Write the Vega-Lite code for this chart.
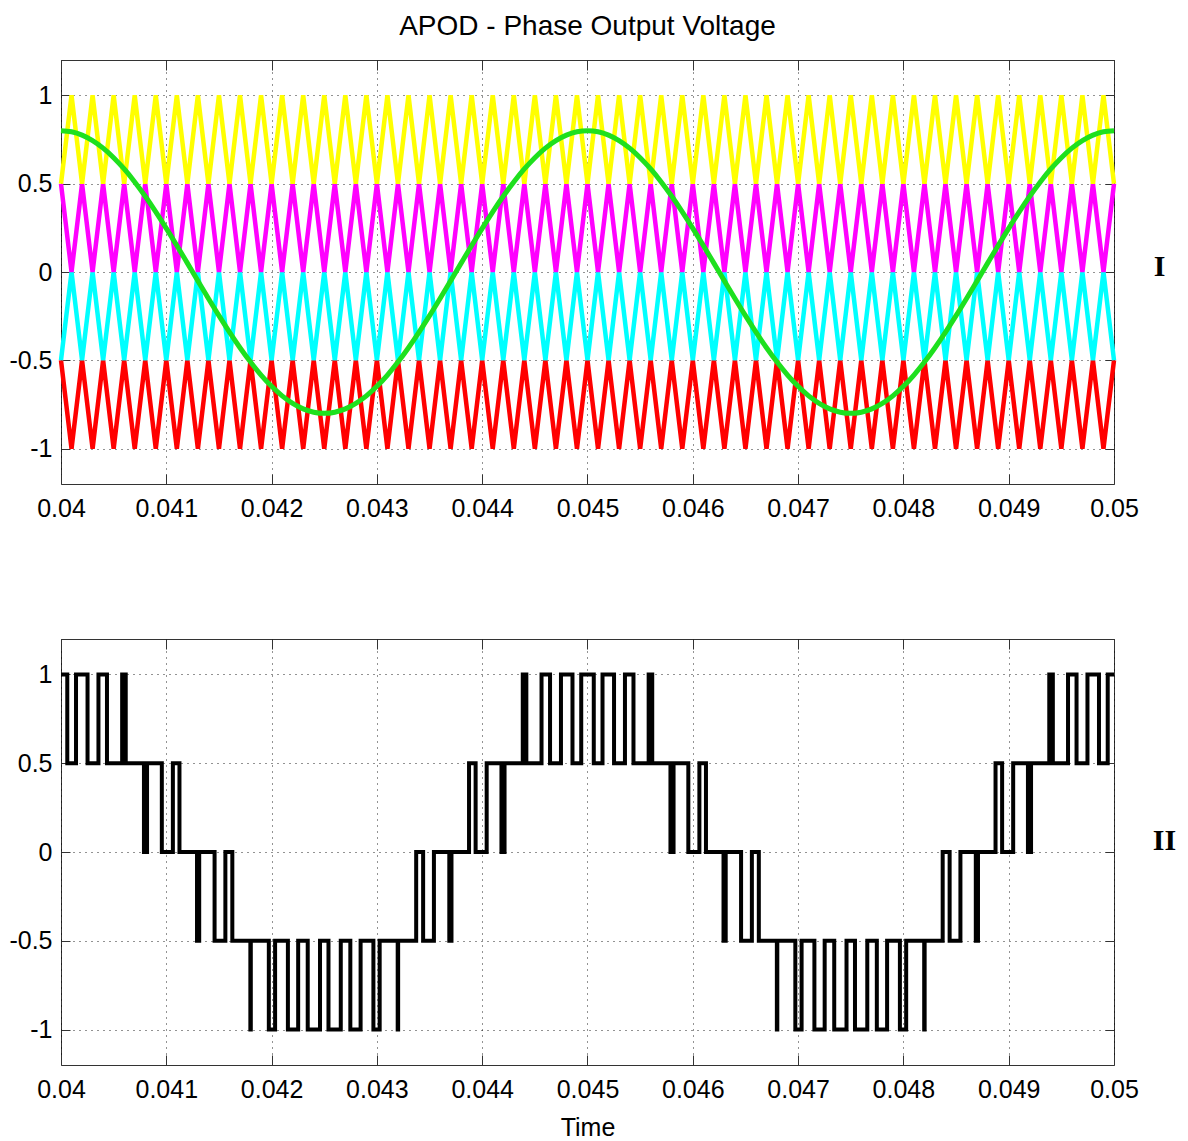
{
  "$schema": "https://vega.github.io/schema/vega-lite/v6.json",
  "background": "white",
  "padding": {"left": 5, "top": 12, "right": 5, "bottom": 5},
  "config": {
    "view": {"stroke": "#333", "strokeWidth": 1},
    "axis": {"labelFont": "Liberation Sans", "labelFontSize": 25, "labelColor": "#000", "labelFlush": false, "tickColor": "#333", "tickWidth": 1, "domain": false, "gridColor": "#000", "gridDash": [1, 5], "gridOpacity": 0.85, "gridWidth": 1, "titleFont": "Liberation Sans", "titleFontSize": 25, "titleFontWeight": "normal", "titleColor": "#000"},
    "title": {"font": "Liberation Sans", "fontSize": 28, "fontWeight": "normal", "color": "#000"}
  },
  "datasets": {
    "car": [
      {"t":0.04,"Y":0.5,"M":0.5,"C":-0.5,"R":-0.5,"S":0.8},
      {"t":0.0401,"Y":1,"M":0,"C":0,"R":-1,"S":0.7937},
      {"t":0.0402,"Y":0.5,"M":0.5,"C":-0.5,"R":-0.5,"S":0.7749},
      {"t":0.0403,"Y":1,"M":0,"C":0,"R":-1,"S":0.7438},
      {"t":0.0404,"Y":0.5,"M":0.5,"C":-0.5,"R":-0.5,"S":0.701},
      {"t":0.0405,"Y":1,"M":0,"C":0,"R":-1,"S":0.6472},
      {"t":0.0406,"Y":0.5,"M":0.5,"C":-0.5,"R":-0.5,"S":0.5832},
      {"t":0.0407,"Y":1,"M":0,"C":0,"R":-1,"S":0.5099},
      {"t":0.0408,"Y":0.5,"M":0.5,"C":-0.5,"R":-0.5,"S":0.4287},
      {"t":0.0409,"Y":1,"M":0,"C":0,"R":-1,"S":0.3406},
      {"t":0.041,"Y":0.5,"M":0.5,"C":-0.5,"R":-0.5,"S":0.2472},
      {"t":0.0411,"Y":1,"M":0,"C":0,"R":-1,"S":0.1499},
      {"t":0.0412,"Y":0.5,"M":0.5,"C":-0.5,"R":-0.5,"S":0.0502},
      {"t":0.0413,"Y":1,"M":0,"C":0,"R":-1,"S":-0.0502},
      {"t":0.0414,"Y":0.5,"M":0.5,"C":-0.5,"R":-0.5,"S":-0.1499},
      {"t":0.0415,"Y":1,"M":0,"C":0,"R":-1,"S":-0.2472},
      {"t":0.0416,"Y":0.5,"M":0.5,"C":-0.5,"R":-0.5,"S":-0.3406},
      {"t":0.0417,"Y":1,"M":0,"C":0,"R":-1,"S":-0.4287},
      {"t":0.0418,"Y":0.5,"M":0.5,"C":-0.5,"R":-0.5,"S":-0.5099},
      {"t":0.0419,"Y":1,"M":0,"C":0,"R":-1,"S":-0.5832},
      {"t":0.042,"Y":0.5,"M":0.5,"C":-0.5,"R":-0.5,"S":-0.6472},
      {"t":0.0421,"Y":1,"M":0,"C":0,"R":-1,"S":-0.701},
      {"t":0.0422,"Y":0.5,"M":0.5,"C":-0.5,"R":-0.5,"S":-0.7438},
      {"t":0.0423,"Y":1,"M":0,"C":0,"R":-1,"S":-0.7749},
      {"t":0.0424,"Y":0.5,"M":0.5,"C":-0.5,"R":-0.5,"S":-0.7937},
      {"t":0.0425,"Y":1,"M":0,"C":0,"R":-1,"S":-0.8},
      {"t":0.0426,"Y":0.5,"M":0.5,"C":-0.5,"R":-0.5,"S":-0.7937},
      {"t":0.0427,"Y":1,"M":0,"C":0,"R":-1,"S":-0.7749},
      {"t":0.0428,"Y":0.5,"M":0.5,"C":-0.5,"R":-0.5,"S":-0.7438},
      {"t":0.0429,"Y":1,"M":0,"C":0,"R":-1,"S":-0.701},
      {"t":0.043,"Y":0.5,"M":0.5,"C":-0.5,"R":-0.5,"S":-0.6472},
      {"t":0.0431,"Y":1,"M":0,"C":0,"R":-1,"S":-0.5832},
      {"t":0.0432,"Y":0.5,"M":0.5,"C":-0.5,"R":-0.5,"S":-0.5099},
      {"t":0.0433,"Y":1,"M":0,"C":0,"R":-1,"S":-0.4287},
      {"t":0.0434,"Y":0.5,"M":0.5,"C":-0.5,"R":-0.5,"S":-0.3406},
      {"t":0.0435,"Y":1,"M":0,"C":0,"R":-1,"S":-0.2472},
      {"t":0.0436,"Y":0.5,"M":0.5,"C":-0.5,"R":-0.5,"S":-0.1499},
      {"t":0.0437,"Y":1,"M":0,"C":0,"R":-1,"S":-0.0502},
      {"t":0.0438,"Y":0.5,"M":0.5,"C":-0.5,"R":-0.5,"S":0.0502},
      {"t":0.0439,"Y":1,"M":0,"C":0,"R":-1,"S":0.1499},
      {"t":0.044,"Y":0.5,"M":0.5,"C":-0.5,"R":-0.5,"S":0.2472},
      {"t":0.0441,"Y":1,"M":0,"C":0,"R":-1,"S":0.3406},
      {"t":0.0442,"Y":0.5,"M":0.5,"C":-0.5,"R":-0.5,"S":0.4287},
      {"t":0.0443,"Y":1,"M":0,"C":0,"R":-1,"S":0.5099},
      {"t":0.0444,"Y":0.5,"M":0.5,"C":-0.5,"R":-0.5,"S":0.5832},
      {"t":0.0445,"Y":1,"M":0,"C":0,"R":-1,"S":0.6472},
      {"t":0.0446,"Y":0.5,"M":0.5,"C":-0.5,"R":-0.5,"S":0.701},
      {"t":0.0447,"Y":1,"M":0,"C":0,"R":-1,"S":0.7438},
      {"t":0.0448,"Y":0.5,"M":0.5,"C":-0.5,"R":-0.5,"S":0.7749},
      {"t":0.0449,"Y":1,"M":0,"C":0,"R":-1,"S":0.7937},
      {"t":0.045,"Y":0.5,"M":0.5,"C":-0.5,"R":-0.5,"S":0.8},
      {"t":0.0451,"Y":1,"M":0,"C":0,"R":-1,"S":0.7937},
      {"t":0.0452,"Y":0.5,"M":0.5,"C":-0.5,"R":-0.5,"S":0.7749},
      {"t":0.0453,"Y":1,"M":0,"C":0,"R":-1,"S":0.7438},
      {"t":0.0454,"Y":0.5,"M":0.5,"C":-0.5,"R":-0.5,"S":0.701},
      {"t":0.0455,"Y":1,"M":0,"C":0,"R":-1,"S":0.6472},
      {"t":0.0456,"Y":0.5,"M":0.5,"C":-0.5,"R":-0.5,"S":0.5832},
      {"t":0.0457,"Y":1,"M":0,"C":0,"R":-1,"S":0.5099},
      {"t":0.0458,"Y":0.5,"M":0.5,"C":-0.5,"R":-0.5,"S":0.4287},
      {"t":0.0459,"Y":1,"M":0,"C":0,"R":-1,"S":0.3406},
      {"t":0.046,"Y":0.5,"M":0.5,"C":-0.5,"R":-0.5,"S":0.2472},
      {"t":0.0461,"Y":1,"M":0,"C":0,"R":-1,"S":0.1499},
      {"t":0.0462,"Y":0.5,"M":0.5,"C":-0.5,"R":-0.5,"S":0.0502},
      {"t":0.0463,"Y":1,"M":0,"C":0,"R":-1,"S":-0.0502},
      {"t":0.0464,"Y":0.5,"M":0.5,"C":-0.5,"R":-0.5,"S":-0.1499},
      {"t":0.0465,"Y":1,"M":0,"C":0,"R":-1,"S":-0.2472},
      {"t":0.0466,"Y":0.5,"M":0.5,"C":-0.5,"R":-0.5,"S":-0.3406},
      {"t":0.0467,"Y":1,"M":0,"C":0,"R":-1,"S":-0.4287},
      {"t":0.0468,"Y":0.5,"M":0.5,"C":-0.5,"R":-0.5,"S":-0.5099},
      {"t":0.0469,"Y":1,"M":0,"C":0,"R":-1,"S":-0.5832},
      {"t":0.047,"Y":0.5,"M":0.5,"C":-0.5,"R":-0.5,"S":-0.6472},
      {"t":0.0471,"Y":1,"M":0,"C":0,"R":-1,"S":-0.701},
      {"t":0.0472,"Y":0.5,"M":0.5,"C":-0.5,"R":-0.5,"S":-0.7438},
      {"t":0.0473,"Y":1,"M":0,"C":0,"R":-1,"S":-0.7749},
      {"t":0.0474,"Y":0.5,"M":0.5,"C":-0.5,"R":-0.5,"S":-0.7937},
      {"t":0.0475,"Y":1,"M":0,"C":0,"R":-1,"S":-0.8},
      {"t":0.0476,"Y":0.5,"M":0.5,"C":-0.5,"R":-0.5,"S":-0.7937},
      {"t":0.0477,"Y":1,"M":0,"C":0,"R":-1,"S":-0.7749},
      {"t":0.0478,"Y":0.5,"M":0.5,"C":-0.5,"R":-0.5,"S":-0.7438},
      {"t":0.0479,"Y":1,"M":0,"C":0,"R":-1,"S":-0.701},
      {"t":0.048,"Y":0.5,"M":0.5,"C":-0.5,"R":-0.5,"S":-0.6472},
      {"t":0.0481,"Y":1,"M":0,"C":0,"R":-1,"S":-0.5832},
      {"t":0.0482,"Y":0.5,"M":0.5,"C":-0.5,"R":-0.5,"S":-0.5099},
      {"t":0.0483,"Y":1,"M":0,"C":0,"R":-1,"S":-0.4287},
      {"t":0.0484,"Y":0.5,"M":0.5,"C":-0.5,"R":-0.5,"S":-0.3406},
      {"t":0.0485,"Y":1,"M":0,"C":0,"R":-1,"S":-0.2472},
      {"t":0.0486,"Y":0.5,"M":0.5,"C":-0.5,"R":-0.5,"S":-0.1499},
      {"t":0.0487,"Y":1,"M":0,"C":0,"R":-1,"S":-0.0502},
      {"t":0.0488,"Y":0.5,"M":0.5,"C":-0.5,"R":-0.5,"S":0.0502},
      {"t":0.0489,"Y":1,"M":0,"C":0,"R":-1,"S":0.1499},
      {"t":0.049,"Y":0.5,"M":0.5,"C":-0.5,"R":-0.5,"S":0.2472},
      {"t":0.0491,"Y":1,"M":0,"C":0,"R":-1,"S":0.3406},
      {"t":0.0492,"Y":0.5,"M":0.5,"C":-0.5,"R":-0.5,"S":0.4287},
      {"t":0.0493,"Y":1,"M":0,"C":0,"R":-1,"S":0.5099},
      {"t":0.0494,"Y":0.5,"M":0.5,"C":-0.5,"R":-0.5,"S":0.5832},
      {"t":0.0495,"Y":1,"M":0,"C":0,"R":-1,"S":0.6472},
      {"t":0.0496,"Y":0.5,"M":0.5,"C":-0.5,"R":-0.5,"S":0.701},
      {"t":0.0497,"Y":1,"M":0,"C":0,"R":-1,"S":0.7438},
      {"t":0.0498,"Y":0.5,"M":0.5,"C":-0.5,"R":-0.5,"S":0.7749},
      {"t":0.0499,"Y":1,"M":0,"C":0,"R":-1,"S":0.7937},
      {"t":0.05,"Y":0.5,"M":0.5,"C":-0.5,"R":-0.5,"S":0.8}
    ],
    "out": [
      {"t":0.04,"v":1},{"t":0.0400596,"v":0.5},{"t":0.0401426,"v":1},{"t":0.040252,"v":0.5},
      {"t":0.0403557,"v":1},{"t":0.0404366,"v":0.5},{"t":0.0405808,"v":1},{"t":0.0406147,"v":0.5},
      {"t":0.0407878,"v":0},{"t":0.0408172,"v":0.5},{"t":0.0409575,"v":0},{"t":0.0410625,"v":0.5},
      {"t":0.041125,"v":0},{"t":0.0412917,"v":-0.5},{"t":0.0413124,"v":0},{"t":0.0414585,"v":-0.5},
      {"t":0.041561,"v":0},{"t":0.041627,"v":-0.5},{"t":0.0417983,"v":-1},{"t":0.0418025,"v":-0.5},
      {"t":0.0419737,"v":-1},{"t":0.0420332,"v":-0.5},{"t":0.0421548,"v":-1},{"t":0.0422523,"v":-0.5},
      {"t":0.0423431,"v":-1},{"t":0.0424598,"v":-0.5},{"t":0.0425402,"v":-1},{"t":0.0426569,"v":-0.5},
      {"t":0.0427477,"v":-1},{"t":0.0428452,"v":-0.5},{"t":0.0429668,"v":-1},{"t":0.0430263,"v":-0.5},
      {"t":0.0431975,"v":-1},{"t":0.0432017,"v":-0.5},{"t":0.043373,"v":0},{"t":0.043439,"v":-0.5},
      {"t":0.0435415,"v":0},{"t":0.0436876,"v":-0.5},{"t":0.0437083,"v":0},{"t":0.043875,"v":0.5},
      {"t":0.0439375,"v":0},{"t":0.0440425,"v":0.5},{"t":0.0441828,"v":0},{"t":0.0442122,"v":0.5},
      {"t":0.0443853,"v":1},{"t":0.0444192,"v":0.5},{"t":0.0445634,"v":1},{"t":0.0446443,"v":0.5},
      {"t":0.044748,"v":1},{"t":0.0448574,"v":0.5},{"t":0.0449404,"v":1},{"t":0.0450596,"v":0.5},
      {"t":0.0451426,"v":1},{"t":0.045252,"v":0.5},{"t":0.0453557,"v":1},{"t":0.0454366,"v":0.5},
      {"t":0.0455808,"v":1},{"t":0.0456147,"v":0.5},{"t":0.0457878,"v":0},{"t":0.0458172,"v":0.5},
      {"t":0.0459575,"v":0},{"t":0.0460625,"v":0.5},{"t":0.046125,"v":0},{"t":0.0462917,"v":-0.5},
      {"t":0.0463124,"v":0},{"t":0.0464585,"v":-0.5},{"t":0.046561,"v":0},{"t":0.046627,"v":-0.5},
      {"t":0.0467983,"v":-1},{"t":0.0468025,"v":-0.5},{"t":0.0469737,"v":-1},{"t":0.0470332,"v":-0.5},
      {"t":0.0471548,"v":-1},{"t":0.0472523,"v":-0.5},{"t":0.0473431,"v":-1},{"t":0.0474598,"v":-0.5},
      {"t":0.0475402,"v":-1},{"t":0.0476569,"v":-0.5},{"t":0.0477477,"v":-1},{"t":0.0478452,"v":-0.5},
      {"t":0.0479668,"v":-1},{"t":0.0480263,"v":-0.5},{"t":0.0481975,"v":-1},{"t":0.0482017,"v":-0.5},
      {"t":0.048373,"v":0},{"t":0.048439,"v":-0.5},{"t":0.0485415,"v":0},{"t":0.0486876,"v":-0.5},
      {"t":0.0487083,"v":0},{"t":0.048875,"v":0.5},{"t":0.0489375,"v":0},{"t":0.0490425,"v":0.5},
      {"t":0.0491828,"v":0},{"t":0.0492122,"v":0.5},{"t":0.0493853,"v":1},{"t":0.0494192,"v":0.5},
      {"t":0.0495634,"v":1},{"t":0.0496443,"v":0.5},{"t":0.049748,"v":1},{"t":0.0498574,"v":0.5},
      {"t":0.0499404,"v":1},{"t":0.05,"v":1}
    ]
  },
  "spacing": 116,
  "vconcat": [
    {
      "title": {"text": "APOD - Phase Output Voltage", "offset": 19},
      "width": 1053,
      "height": 424,
      "data": {"name": "car"},
      "resolve": {"axis": {"x": "independent", "y": "independent"}},
      "layer": [
        {
          "mark": {"type": "line", "color": "#FF0000", "strokeWidth": 4.5, "strokeJoin": "bevel"},
          "encoding": {
            "x": {"field": "t", "type": "quantitative", "scale": {"domain": [0.04, 0.05], "nice": false, "zero": false},
              "axis": {"orient": "bottom", "values": [0.04,0.041,0.042,0.043,0.044,0.045,0.046,0.047,0.048,0.049,0.05], "labelExpr": "'' + datum.value", "tickSize": -10, "labelPadding": 22, "grid": true, "title": null, "minExtent": 36, "maxExtent": 36}},
            "y": {"field": "R", "type": "quantitative", "scale": {"domain": [-1.2, 1.2], "nice": false, "zero": false},
              "axis": {"orient": "left", "values": [-1,-0.5,0,0.5,1], "labelExpr": "'' + datum.value", "tickSize": -9, "labelPadding": 18, "grid": true, "title": null, "minExtent": 55, "maxExtent": 55}}
          }
        },
        {
          "mark": {"type": "line", "color": "#00FFFF", "strokeWidth": 4.5, "strokeJoin": "bevel"},
          "encoding": {
            "x": {"field": "t", "type": "quantitative", "axis": null},
            "y": {"field": "C", "type": "quantitative", "axis": null}
          }
        },
        {
          "mark": {"type": "line", "color": "#FF00FF", "strokeWidth": 4.5, "strokeJoin": "bevel"},
          "encoding": {
            "x": {"field": "t", "type": "quantitative", "axis": null},
            "y": {"field": "M", "type": "quantitative", "axis": null}
          }
        },
        {
          "mark": {"type": "line", "color": "#FFFF00", "strokeWidth": 4.5, "strokeJoin": "bevel"},
          "encoding": {
            "x": {"field": "t", "type": "quantitative", "axis": null},
            "y": {"field": "Y", "type": "quantitative", "axis": null}
          }
        },
        {
          "mark": {"type": "line", "color": "#1EE01E", "strokeWidth": 5, "interpolate": "monotone"},
          "encoding": {
            "x": {"field": "t", "type": "quantitative",
              "axis": {"orient": "top", "values": [0.04,0.041,0.042,0.043,0.044,0.045,0.046,0.047,0.048,0.049,0.05], "labels": false, "tickSize": -10, "grid": false, "title": null, "minExtent": 0, "maxExtent": 0}},
            "y": {"field": "S", "type": "quantitative",
              "axis": {"orient": "right", "values": [-1,-0.5,0,0.5,1], "labels": false, "tickSize": -9, "grid": false, "title": "I", "titleAngle": 0, "titleFont": "Liberation Serif", "titleFontWeight": "bold", "titleFontSize": 30, "titleX": 45, "titleY": 206, "titleAlign": "center", "titleBaseline": "middle", "minExtent": 0, "maxExtent": 0}}
          }
        }
      ]
    },
    {
      "width": 1053,
      "height": 426,
      "data": {"name": "out"},
      "resolve": {"axis": {"x": "independent", "y": "independent"}},
      "layer": [
        {
          "mark": {"type": "line", "color": "#000000", "strokeWidth": 4, "interpolate": "step-after", "strokeJoin": "miter"},
          "encoding": {
            "x": {"field": "t", "type": "quantitative", "scale": {"domain": [0.04, 0.05], "nice": false, "zero": false},
              "axis": {"orient": "bottom", "values": [0.04,0.041,0.042,0.043,0.044,0.045,0.046,0.047,0.048,0.049,0.05], "labelExpr": "'' + datum.value", "tickSize": -10, "labelPadding": 22, "grid": true, "title": "Time", "titlePadding": 14, "minExtent": 36, "maxExtent": 36}},
            "y": {"field": "v", "type": "quantitative", "scale": {"domain": [-1.2, 1.2], "nice": false, "zero": false},
              "axis": {"orient": "left", "values": [-1,-0.5,0,0.5,1], "labelExpr": "'' + datum.value", "tickSize": -9, "labelPadding": 18, "grid": true, "title": null, "minExtent": 55, "maxExtent": 55}}
          }
        },
        {
          "mark": {"type": "line", "color": "#000000", "strokeWidth": 4, "interpolate": "step-after", "opacity": 0},
          "encoding": {
            "x": {"field": "t", "type": "quantitative",
              "axis": {"orient": "top", "values": [0.04,0.041,0.042,0.043,0.044,0.045,0.046,0.047,0.048,0.049,0.05], "labels": false, "tickSize": -10, "grid": false, "title": null, "minExtent": 0, "maxExtent": 0}},
            "y": {"field": "v", "type": "quantitative",
              "axis": {"orient": "right", "values": [-1,-0.5,0,0.5,1], "labels": false, "tickSize": -9, "grid": false, "title": "II", "titleAngle": 0, "titleFont": "Liberation Serif", "titleFontWeight": "bold", "titleFontSize": 30, "titleX": 50, "titleY": 201, "titleAlign": "center", "titleBaseline": "middle", "minExtent": 0, "maxExtent": 0}}
          }
        }
      ]
    }
  ]
}
